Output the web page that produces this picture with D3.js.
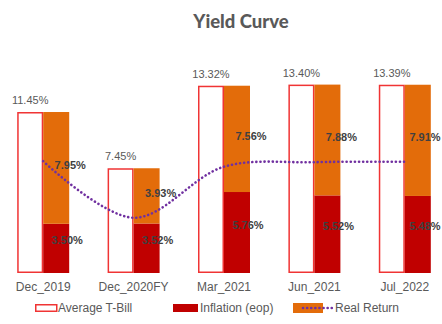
<!DOCTYPE html>
<html>
<head>
<meta charset="utf-8">
<script src="https://cdn.jsdelivr.net/npm/d3@7"></script>
<style>
  html, body { margin: 0; padding: 0; background: #fff; }
  svg { display: block; }
</style>
</head>
<body>
<svg id="chart" width="442" height="324"></svg>
<script>
const categories = ["Dec_2019", "Dec_2020FY", "Mar_2021", "Jun_2021", "Jul_2022"];
const tbill      = [11.45, 7.45, 13.32, 13.40, 13.39];
const inflation  = [3.50, 3.52, 5.76, 5.52, 5.48];
const realReturn = [7.95, 3.93, 7.56, 7.88, 7.91];
const seriesNames = ["Average T-Bill", "Inflation (eop)", "Real Return"];

const svg = d3.select("#chart");
const W = 442, H = 324;
const baseY = 273;
const pxPerPct = 14.06;

const x = d3.scaleBand().domain(categories).range([-2, 450]).padding(0);
const bw = x.bandwidth();
const xs = d3.scaleBand().domain(["tbill", "stack"]).range([bw / 2 - 26, bw / 2 + 26]).padding(0);
const y = d3.scaleLinear().domain([0, 14]).range([baseY, baseY - 14 * pxPerPct]);

const colTBill = "#F03434", colInfl = "#C00000", colReal = "#E36C0A", colLine = "#7030A0";
const gray = "#595959", dark = "#404040";
const font = "'Liberation Sans', Arial, sans-serif";

// Title
svg.append("text").attr("x", 241).attr("y", 28).attr("text-anchor", "middle")
  .attr("font-family", "Lato, 'DejaVu Sans', sans-serif").attr("font-weight", 900)
  .attr("font-size", 18.5).attr("fill", "#595959").text("Yield Curve");

const data = categories.map((c, i) => ({ c, tb: tbill[i], inf: inflation[i], rr: realReturn[i] }));

const g = svg.append("g");
const grp = g.selectAll("g.grp").data(data).join("g").attr("class", "grp")
  .attr("transform", d => `translate(${x(d.c)},0)`);

// T-Bill outline bars
grp.append("rect")
  .attr("x", xs("tbill") + 0.75).attr("width", xs.bandwidth() - 1.5)
  .attr("y", d => y(d.tb) + 0.75).attr("height", d => y(0) - y(d.tb) - 1.5)
  .attr("fill", "#fff").attr("stroke", colTBill).attr("stroke-width", 1.5);

// Inflation
grp.append("rect")
  .attr("x", xs("stack")).attr("width", xs.bandwidth())
  .attr("y", d => y(d.inf)).attr("height", d => y(0) - y(d.inf))
  .attr("fill", colInfl);

// Real return stacked
grp.append("rect")
  .attr("x", xs("stack")).attr("width", xs.bandwidth())
  .attr("y", d => y(d.inf + d.rr)).attr("height", d => y(d.inf) - y(d.inf + d.rr))
  .attr("fill", colReal);

// Real return line
const line = d3.line()
  .x(d => x(d.c) + bw / 2)
  .y(d => y(d.rr))
  .curve(d3.curveCatmullRom.alpha(0.5));
g.append("path").datum(data).attr("d", line)
  .attr("fill", "none").attr("stroke", colLine).attr("stroke-width", 2.6)
  .attr("stroke-linecap", "round").attr("stroke-dasharray", "0.1,4");

// T-Bill labels
grp.append("text")
  .attr("x", xs("tbill") + xs.bandwidth() / 2).attr("y", d => y(d.tb) - 8)
  .attr("text-anchor", "middle").attr("font-family", font).attr("font-size", 11)
  .attr("fill", gray).text(d => d.tb.toFixed(2) + "%");

// Segment labels (kept inside the picture)
const stackCenter = d => x(d.c) + xs("stack") + xs.bandwidth() / 2;
const clampX = v => Math.min(v, W - 17);
g.selectAll("text.rr").data(data).join("text").attr("class", "rr")
  .attr("x", d => clampX(stackCenter(d) + 14)).attr("y", d => (y(d.inf) + y(d.inf + d.rr)) / 2 + 1)
  .attr("text-anchor", "middle").attr("font-family", font).attr("font-size", 11)
  .attr("font-weight", "bold").attr("fill", dark).text(d => d.rr.toFixed(2) + "%");
g.selectAll("text.inf").data(data).join("text").attr("class", "inf")
  .attr("x", d => clampX(stackCenter(d) + 11)).attr("y", d => (y(0) + y(d.inf)) / 2 - 4)
  .attr("text-anchor", "middle").attr("font-family", font).attr("font-size", 11)
  .attr("font-weight", "bold").attr("fill", dark).text(d => d.inf.toFixed(2) + "%");

// X axis labels
const xAxis = d3.axisBottom(x).tickSize(0).tickPadding(0);
const ax = svg.append("g").attr("transform", `translate(0,${baseY + 18})`).call(xAxis);
ax.select(".domain").remove();
ax.selectAll("text").attr("font-family", font).attr("font-size", 12).attr("fill", gray).attr("dy", 0);

// Legend
const leg = svg.append("g").attr("font-family", font).attr("font-size", 12).attr("fill", gray);
const ly = 308;
leg.append("rect").attr("x", 35.75).attr("y", ly - 3.25).attr("width", 21).attr("height", 6.5)
  .attr("fill", "#fff").attr("stroke", colTBill).attr("stroke-width", 1.5);
leg.append("text").attr("x", 58).attr("y", ly + 4).text(seriesNames[0]);
leg.append("rect").attr("x", 173).attr("y", ly - 4).attr("width", 25).attr("height", 8).attr("fill", colInfl);
leg.append("text").attr("x", 200).attr("y", ly + 4).text(seriesNames[1]);
leg.append("rect").attr("x", 293).attr("y", ly - 5).attr("width", 30).attr("height", 10).attr("fill", colReal);
leg.append("line").attr("x1", 303).attr("x2", 333).attr("y1", ly).attr("y2", ly)
  .attr("stroke", colLine).attr("stroke-width", 2.6).attr("stroke-linecap", "round").attr("stroke-dasharray", "0.1,4");
leg.append("text").attr("x", 335).attr("y", ly + 4).text(seriesNames[2]);
</script>
</body>
</html>
